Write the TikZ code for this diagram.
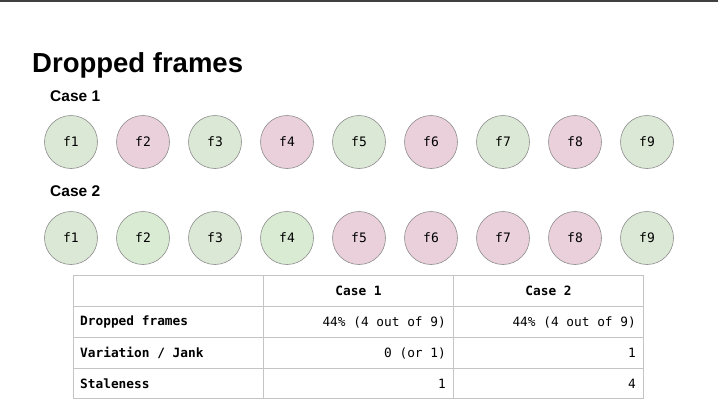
\documentclass[tikz,border=0pt]{standalone}
\usepackage{fontspec}
\setmainfont{Liberation Sans}
\setmonofont{DejaVu Sans Mono}
\usepackage{xcolor}
\usetikzlibrary{positioning}

\definecolor{okgreen}{HTML}{DCE8D6}
\definecolor{okgreenB}{HTML}{D9EBD2}
\definecolor{droppink}{HTML}{EAD0DA}
\definecolor{ringgray}{HTML}{8E8E8E}
\definecolor{gridgray}{HTML}{C4C4C4}

\begin{document}
\begin{tikzpicture}[
        x=1pt, y=-1pt,
        node distance=18.4pt, % 圆之间的间距
        frame/.style={circle, minimum size=53pt, inner sep=0pt, draw=ringgray, line width=0.6pt, font=\ttfamily\fontsize{13}{14}\selectfont},
        shown/.style={frame, fill=okgreen},
        shownB/.style={frame, fill=okgreenB},
        dropped/.style={frame, fill=droppink},
        heading/.style={anchor=base west, inner sep=0pt, font=\bfseries\fontsize{27.5}{30}\selectfont},
        casename/.style={anchor=base west, inner sep=0pt, font=\bfseries\fontsize{15.5}{18}\selectfont},
        cell/.style={font=\ttfamily\fontsize{12.8}{14}\selectfont, inner sep=0pt},
        grid/.style={draw=gridgray, line width=0.7pt}
    ]
        \useasboundingbox (0,0) rectangle (718,405);
        \fill[white] (0,0) rectangle (718,405);
        \draw[black!75, line width=2.2pt] (0,1) -- (718,1);

        % ===== 标题 =====
        \node (title) [heading] at (32,72) {Dropped frames};
        \node (caseA) [casename] at (50,101) {Case 1};
        \node (caseB) [casename] at (50,196) {Case 2};

        % ===== Case 1 =====
        \node (a1) [shown] at (71,142) {f1};
        \node (a2) [dropped, right=of a1] {f2};
        \node (a3) [shown, right=of a2] {f3};
        \node (a4) [dropped, right=of a3] {f4};
        \node (a5) [shown, right=of a4] {f5};
        \node (a6) [dropped, right=of a5] {f6};
        \node (a7) [shown, right=of a6] {f7};
        \node (a8) [dropped, right=of a7] {f8};
        \node (a9) [shown, right=of a8] {f9};

        % ===== Case 2 =====
        \node (b1) [shown] at (71,238) {f1};
        \node (b2) [shownB, right=of b1] {f2};
        \node (b3) [shown, right=of b2] {f3};
        \node (b4) [shownB, right=of b3] {f4};
        \node (b5) [dropped, right=of b4] {f5};
        \node (b6) [dropped, right=of b5] {f6};
        \node (b7) [dropped, right=of b6] {f7};
        \node (b8) [dropped, right=of b7] {f8};
        \node (b9) [shown, right=of b8] {f9};

        % ===== 表格 =====
        \coordinate (tl) at (73.5,275);
        \coordinate (br) at (643,398.5);
        \draw [grid] (tl) rectangle (br);
        \draw [grid] (263.5,275) -- (263.5,398.5);
        \draw [grid] (453.5,275) -- (453.5,398.5);
        \draw [grid] (73.5,306) -- (643,306);
        \draw [grid] (73.5,337) -- (643,337);
        \draw [grid] (73.5,368) -- (643,368);

        % 表头
        \node (hA) [cell] at (358.5,291) {\bfseries Case 1};
        \node (hB) [cell] at (548.5,291) {\bfseries Case 2};

        % 行标题
        \node (r1) [cell, anchor=west] at (80,322) {\bfseries Dropped frames};
        \node (r2) [cell, anchor=west] at (80,353) {\bfseries Variation / Jank};
        \node (r3) [cell, anchor=west] at (80,384) {\bfseries Staleness};

        % 数值
        \node (v1A) [cell, anchor=east] at (446,322) {44\% (4 out of 9)};
        \node (v1B) [cell, anchor=east] at (636,322) {44\% (4 out of 9)};
        \node (v2A) [cell, anchor=east] at (446,353) {0 (or 1)};
        \node (v2B) [cell, anchor=east] at (636,353) {1};
        \node (v3A) [cell, anchor=east] at (446,384) {1};
        \node (v3B) [cell, anchor=east] at (636,384) {4};

    \end{tikzpicture}
\end{document}
